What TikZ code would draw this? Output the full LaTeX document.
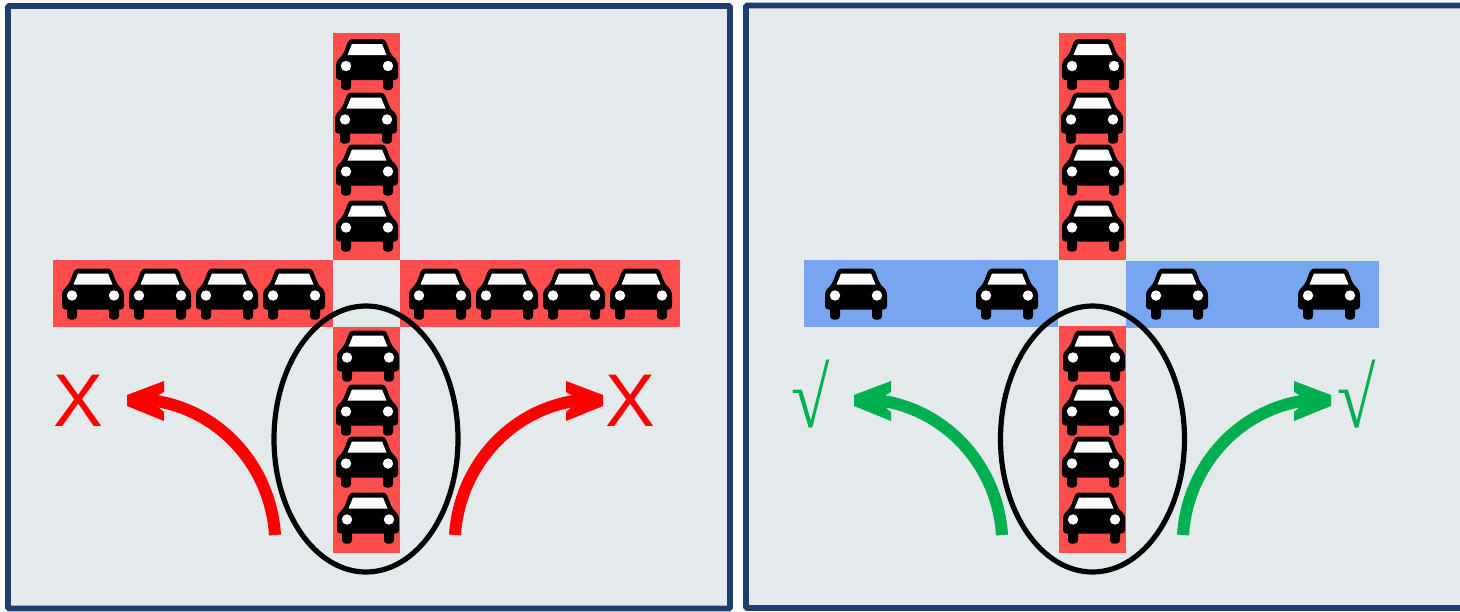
\documentclass[tikz,border=0pt]{standalone}
\usepackage{fontspec}
\setmainfont{Liberation Sans}
\newfontfamily\rootfont{Liberation Serif}
\definecolor{panelbg}{HTML}{E4E9EC}
\definecolor{framec}{HTML}{1F3D6E}
\definecolor{roadred}{HTML}{FD4D4D}
\definecolor{roadblue}{HTML}{78A5F0}
\definecolor{okgreen}{HTML}{00B050}
\definecolor{badred}{HTML}{FF0000}
\tikzset{
  panel/.style={draw=framec,fill=panelbg,line width=4.4pt,rounded corners=1pt},
  redroad/.style={fill=roadred},
  blueroad/.style={fill=roadblue},
  ringmark/.style={draw=black,line width=3.9pt},
  curved/.style={line width=9pt},
  sign/.style={inner sep=0pt,font=\fontsize{56}{56}\selectfont,text=badred},
  root/.style={inner sep=0pt,font=\rootfont\fontsize{64}{64}\selectfont,text=okgreen,xscale=0.82,transform shape},
  car/.pic={
    \fill[black,rounded corners=2.5] (-31,15.5) -- (-31,-3) -- (-24,-10) -- (-18,-25.5) -- (18,-25.5) -- (24,-10) -- (31,-3) -- (31,15.5) -- cycle;
    \fill[black,rounded corners=2.5] (-26,12) rectangle (-16,25.5);
    \fill[black,rounded corners=2.5] (16,12) rectangle (26,25.5);
    \fill[white] (-15,-20.5) -- (15,-20.5) -- (19.5,-9.5) -- (-19.5,-9.5) -- cycle;
    \fill[white] (-21,1.5) circle[radius=5.2];
    \fill[white] (21,1.5) circle[radius=5.2];
  }
}
\newcommand{\bentarrow}[3]{%
  \begin{scope}[shift={(#1,0)},xscale=#3]
    \draw[#2,curved] (91,535) -- (90.6,530) .. controls (84,462) and (31,405) .. (-40,399.5);
    \fill[#2] (-57,395) -- (-20,381) -- (-20,392) -- (-34,400) -- (-20,412) -- (-20,421) -- (-57,406) -- cycle;
  \end{scope}}
\begin{document}
\begin{tikzpicture}[x=0.75pt,y=-0.75pt]
\useasboundingbox (0,0) rectangle (1460,611);
\clip (0,0) rectangle (1460,611);
\fill[white] (0,0) rectangle (1460,611);
% panels
\draw[panel] (8,6) rectangle (730,608.5);
\draw[panel] (746,5.5) rectangle (1480,608);
% left panel roads
\fill[redroad] (333,33) rectangle (400,260);
\fill[redroad] (53,260) rectangle (333,327);
\fill[redroad] (400,260) rectangle (680,327);
\fill[redroad] (333,327) rectangle (400,553);
% right panel roads
\fill[redroad] (1059,33) rectangle (1126,260);
\fill[blueroad] (804,260) rectangle (1058,327);
\fill[blueroad] (1126,261) rectangle (1379,328);
\fill[redroad] (1059,326) rectangle (1126,553);
% cars
\foreach \x/\y in {367/64.5,366/118,367/170,367/226,368/356,367/410,367/462,368/518,
  93/294,160/294,227/294,294/294,440/294,507/294,574/294,641/294,
  1093/64.5,1092/118,1093/170,1093/226,1094/356,1093/410,1093/462,1094/518,
  856/294,1007/294,1177/294,1329/294}
  \pic at (\x,\y) {car};
% rings
\draw[ringmark] (366,439) ellipse[x radius=92,y radius=133];
\draw[ringmark] (1092.5,439) ellipse[x radius=92,y radius=133];
% arrows
\bentarrow{184}{badred}{1}
\bentarrow{546}{badred}{-1}
\bentarrow{911}{okgreen}{1}
\bentarrow{1274}{okgreen}{-1}
% labels
\node[sign] (xl) at (78,401) {X};
\node[sign] (xr) at (630,401) {X};
\node[root] (vl) at (811,394) {√};
\node[root] (vr) at (1356.5,394) {√};
\end{tikzpicture}
\end{document}
